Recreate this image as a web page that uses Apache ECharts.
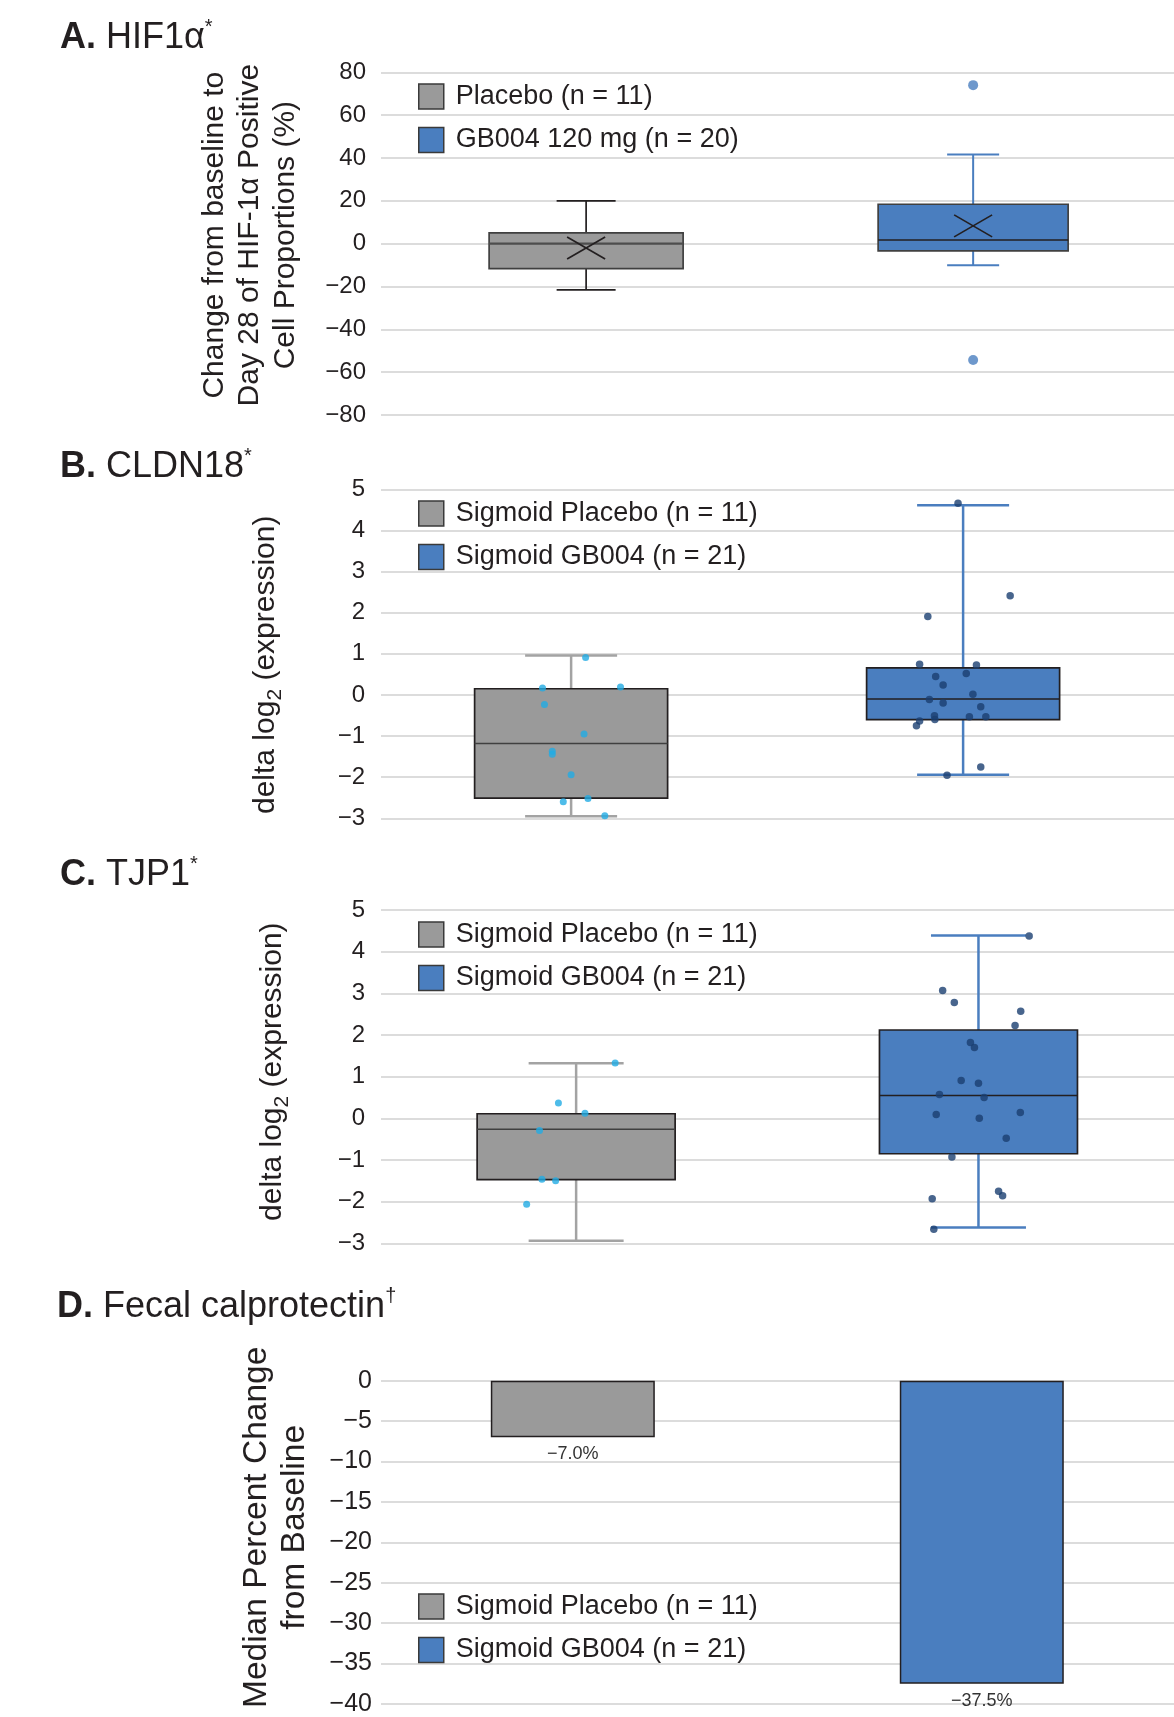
<!DOCTYPE html>
<html>
<head>
<meta charset="utf-8">
<title>GB004 biomarker panels</title>
<script src="https://cdn.jsdelivr.net/npm/echarts@6/dist/echarts.min.js"></script>
<style>
  html, body { margin: 0; padding: 0; background: #fff; }
  #chart { width: 1174px; height: 1717px; }
</style>
</head>
<body>
<div id="chart"></div>
<script>
  // ---- data ----
  // box rows: [group, low whisker, Q1, median, Q3, high whisker, mean]
  const hifNames = ['Placebo (n = 11)', 'GB004 120 mg (n = 20)']
  const hifPlaceboBox = [0, -21.6, -11.7, 0, 5.0, 20, -2.0]
  const hifGb004Box = [1, -10.1, -3.4, 1.7, 18.4, 41.6, 8.3]
  const hifOutliers = [74, -54.3]
  const hifRange = [-80, 80, 20]

  const sigmoidNames = ['Sigmoid Placebo (n = 11)', 'Sigmoid GB004 (n = 21)']

  const cldnPlaceboBox = [0, -2.95, -2.51, -1.18, 0.15, 0.96]
  const cldnGb004Box = [1, -1.94, -0.60, -0.10, 0.66, 4.61]
  const cldnPlaceboPts = [0.91, 0.17, 0.195, -0.23, -0.95, -1.37, -1.44, -1.94, -2.60, -2.52, -2.94]
  const cldnPlaceboJitter = [0.037, -0.073, 0.126, -0.068, 0.033, -0.048, -0.048, 0, -0.020, 0.043, 0.086]
  const cldnGb004Pts = [4.66, 2.41, 1.905, 0.745, 0.73, 0.52, 0.445, 0.243, 0.015, -0.114, -0.195, -0.285,
    -0.504, -0.60, -0.633, -0.747, -0.528, -0.528, -1.75, -1.956]
  const cldnGb004Jitter = [-0.013, 0.120, -0.090, -0.111, 0.034, 0.008, -0.070, -0.051, 0.025, -0.086, -0.051, 0.045,
    -0.073, -0.072, -0.111, -0.119, 0.016, 0.058, 0.045, -0.041]

  const tjpPlaceboBox = [0, -2.94, -1.47, -0.26, 0.11, 1.32]
  const tjpGb004Box = [1, -2.62, -0.85, 0.55, 2.12, 4.385]
  const tjpPlaceboPts = [1.33, 0.37, 0.12, -0.295, -1.46, -1.50, -2.06, -3.05]
  const tjpPlaceboJitter = [0.097, -0.044, 0.022, -0.091, -0.085, -0.051, -0.123, 0.013]
  const tjpGb004Pts = [4.375, 3.07, 2.78, 2.57, 2.23, 1.82, 1.70, 0.91, 0.84, 0.57, 0.50, 0.09, 0.0, 0.14,
    -0.48, -0.93, -1.93, -1.75, -1.86, -2.66]
  const tjpGb004Jitter = [0.126, -0.089, -0.060, 0.105, 0.091, -0.020, -0.010, -0.043, 0.0, -0.097, 0.014, -0.105,
    0.002, 0.104, 0.069, -0.066, -0.115, 0.050, 0.060, -0.111]
  const log2Range = [-3, 5, 1]

  const calproGroups = [0, 1]
  const calproMedians = [-7.0, -37.5]
  const calproRange = [-40, 0, 5]

  // ---- styling ----
  const font = '"Liberation Sans", Arial, Helvetica, sans-serif'
  const ink = '#231f20'
  const gray = '#9a9a9a'
  const blue = '#4a7ebf'
  const lightDot = '#22abe3'
  const darkDot = '#1a3e70'

  const minus = v => String(v).replace('-', '\u2212')

  // 箱线图：须线、端帽、箱体、中位线，可选均值叉
  function boxRenderer(cfg) {
    return function (params, api) {
      const x = api.value(0)
      const pt = v => api.coord([x, v])
      const low = pt(api.value(1)), q1 = pt(api.value(2)), med = pt(api.value(3))
      const q3 = pt(api.value(4)), high = pt(api.value(5))
      const cx = low[0]
      const whisk = {stroke: cfg.whisker, lineWidth: cfg.whiskerWidth}
      const kids = [
        {type: 'line', shape: {x1: cx, y1: high[1], x2: cx, y2: q3[1]}, style: whisk},
        {type: 'line', shape: {x1: cx, y1: q1[1], x2: cx, y2: low[1]}, style: whisk},
        {type: 'line', shape: {x1: cx - cfg.cap, y1: high[1], x2: cx + cfg.cap, y2: high[1]}, style: whisk},
        {type: 'line', shape: {x1: cx - cfg.cap, y1: low[1], x2: cx + cfg.cap, y2: low[1]}, style: whisk},
        {type: 'rect', shape: {x: cx - cfg.half, y: q3[1], width: cfg.half * 2, height: q1[1] - q3[1]},
          style: {fill: api.visual('color'), stroke: cfg.border, lineWidth: 1.7}},
        {type: 'line', shape: {x1: cx - cfg.half, y1: med[1], x2: cx + cfg.half, y2: med[1]},
          style: {stroke: cfg.median, lineWidth: cfg.medianWidth || 1.5}}
      ]
      if (cfg.mean) {
        const m = pt(api.value(6))
        const s = {stroke: ink, lineWidth: 1.7}
        kids.push({type: 'line', shape: {x1: m[0] - 19, y1: m[1] - 11, x2: m[0] + 19, y2: m[1] + 11}, style: s})
        kids.push({type: 'line', shape: {x1: m[0] - 19, y1: m[1] + 11, x2: m[0] + 19, y2: m[1] - 11}, style: s})
      }
      return {type: 'group', children: kids}
    }
  }

  function boxSeries(name, idx, row, color, cfg) {
    const dims = cfg.mean ? [1, 2, 3, 4, 5, 6] : [1, 2, 3, 4, 5]
    return {
      name: name, type: 'custom', xAxisIndex: idx, yAxisIndex: idx,
      itemStyle: {color: color},
      renderItem: boxRenderer(cfg),
      encode: {x: 0, y: dims},
      data: [row], z: 2
    }
  }

  function dotSeries(idx, group, values, jitter, color, size) {
    return {
      type: 'scatter', xAxisIndex: idx, yAxisIndex: idx, z: 4,
      symbolSize: size, itemStyle: {color: color},
      data: values.map((v, i) => [group + jitter[i], v])
    }
  }

  function calproBar(i, color) {
    return {
      name: sigmoidNames[i], type: 'bar', xAxisIndex: 3, yAxisIndex: 3,
      barWidth: 164, barGap: '-100%',
      itemStyle: {color: color, borderColor: ink, borderWidth: 1.5},
      label: {show: true, position: 'bottom', distance: 8, fontSize: 18, color: '#333', fontFamily: font,
        formatter: p => minus(p.value[1].toFixed(1)) + '%'},
      data: [[calproGroups[i], calproMedians[i]]]
    }
  }

  function makeX(idx, min, max) {
    return {gridIndex: idx, type: 'value', min: min, max: max, show: false}
  }

  function makeY(idx, range, name, nameStyle, gap, labelStyle) {
    return {
      gridIndex: idx, type: 'value', min: range[0], max: range[1], interval: range[2],
      axisLine: {show: false}, axisTick: {show: false},
      axisLabel: Object.assign({color: ink, fontFamily: font, formatter: minus}, labelStyle),
      splitLine: {lineStyle: {color: '#dcdcdc', width: 2}},
      name: name, nameLocation: 'middle', nameRotate: 90, nameGap: gap,
      nameTextStyle: Object.assign({color: ink, fontFamily: font, align: 'center'}, nameStyle)
    }
  }

  function makeLegend(names, top) {
    return {
      data: names, orient: 'vertical', left: 418, top: top, padding: 0,
      itemWidth: 25, itemHeight: 25, itemGap: 16.5, icon: 'rect', selectedMode: false,
      itemStyle: {borderColor: '#3a3a3a', borderWidth: 1.5},
      textStyle: {fontSize: 27, color: ink, fontFamily: font, padding: [4, 0, 0, 7]}
    }
  }

  function makeTitle(letter, label, mark, left, top) {
    return {
      left: left, top: top, padding: 0,
      text: '{b|' + letter + '}{n| ' + label + '}{s|' + mark + '}',
      textStyle: {
        fontWeight: 'normal',
        rich: {
          b: {fontSize: 36, fontWeight: 'bold', color: ink, fontFamily: font, lineHeight: 42},
          n: {fontSize: 36, fontWeight: 'normal', color: ink, fontFamily: font, lineHeight: 42},
          s: {fontSize: 20, fontWeight: 'normal', color: ink, fontFamily: font, lineHeight: 26, verticalAlign: 'top'}
        }
      }
    }
  }

  const log2Name = '{m|delta log}{sub|2}{m| (expression)}'
  const log2Rich = {
    rich: {
      m: {fontSize: 30, color: ink, fontFamily: font, lineHeight: 40},
      sub: {fontSize: 21, color: ink, fontFamily: font, lineHeight: 8, verticalAlign: 'bottom'}
    }
  }

  const chart = echarts.init(document.getElementById('chart'), null, {renderer: 'canvas'})

  const gridBase = {left: 381, right: 0, outerBoundsMode: 'none', containLabel: false}

  const option = {
    backgroundColor: '#ffffff',
    animation: false,
    title: [
      makeTitle('A.', 'HIF1\u03b1', '*', 60, 17),
      makeTitle('B.', 'CLDN18', '*', 60, 446),
      makeTitle('C.', 'TJP1', '*', 60, 854),
      makeTitle('D.', 'Fecal calprotectin', '\u2020', 57, 1286)
    ],
    legend: [
      makeLegend(hifNames, 83),
      makeLegend(sigmoidNames, 500),
      makeLegend(sigmoidNames, 921),
      makeLegend(sigmoidNames, 1593)
    ],
    grid: [
      Object.assign({top: 72.3, height: 342.7}, gridBase),
      Object.assign({top: 489.3, height: 329}, gridBase),
      Object.assign({top: 910, height: 333.3}, gridBase),
      Object.assign({top: 1380.7, height: 323.3}, gridBase)
    ],
    xAxis: [
      makeX(0, -0.530, 1.519),
      makeX(1, -0.485, 1.538),
      makeX(2, -0.485, 1.486),
      makeX(3, -0.469, 1.470)
    ],
    yAxis: [
      makeY(0, hifRange, 'Change from baseline to\nDay 28 of HIF-1\u03b1 Positive\nCell Proportions (%)',
        {fontSize: 30, lineHeight: 35.5, padding: [0, 0, 0, 17]}, 78, {fontSize: 24, margin: 15}),
      makeY(1, log2Range, log2Name, Object.assign({padding: [0, 22, 0, 0]}, log2Rich), 95, {fontSize: 24, margin: 16}),
      makeY(2, log2Range, log2Name, Object.assign({padding: [0, 0, 0, 10]}, log2Rich), 88, {fontSize: 24, margin: 16}),
      makeY(3, calproRange, 'Median Percent Change\nfrom Baseline',
        {fontSize: 33.5, lineHeight: 38, padding: [0, 0, 0, 30]}, 67, {fontSize: 25, margin: 9})
    ],
    series: [
      boxSeries(hifNames[0], 0, hifPlaceboBox, gray,
        {half: 97, cap: 29.5, whisker: ink, whiskerWidth: 1.7, border: '#404040', median: '#4d4d4d', medianWidth: 2.2, mean: true}),
      boxSeries(hifNames[1], 0, hifGb004Box, blue,
        {half: 95, cap: 26, whisker: blue, whiskerWidth: 2, border: '#404040', median: ink, mean: true}),
      {
        type: 'scatter', xAxisIndex: 0, yAxisIndex: 0, z: 4, symbolSize: 10,
        itemStyle: {color: blue},
        data: hifOutliers.map(v => [1, v])
      },

      boxSeries(sigmoidNames[0], 1, cldnPlaceboBox, gray,
        {half: 96.5, cap: 46, whisker: '#a3a3a3', whiskerWidth: 2.5, border: ink, median: '#404040'}),
      boxSeries(sigmoidNames[1], 1, cldnGb004Box, blue,
        {half: 96.5, cap: 46, whisker: blue, whiskerWidth: 2.5, border: ink, median: ink}),
      dotSeries(1, 0, cldnPlaceboPts, cldnPlaceboJitter, lightDot, 7),
      dotSeries(1, 1, cldnGb004Pts, cldnGb004Jitter, darkDot, 7.5),

      boxSeries(sigmoidNames[0], 2, tjpPlaceboBox, gray,
        {half: 99, cap: 47.5, whisker: '#a3a3a3', whiskerWidth: 2.5, border: ink, median: '#404040'}),
      boxSeries(sigmoidNames[1], 2, tjpGb004Box, blue,
        {half: 99, cap: 47.5, whisker: blue, whiskerWidth: 2.5, border: ink, median: ink}),
      dotSeries(2, 0, tjpPlaceboPts, tjpPlaceboJitter, lightDot, 7),
      dotSeries(2, 1, tjpGb004Pts, tjpGb004Jitter, darkDot, 7.5),

      calproBar(0, gray),
      calproBar(1, blue)
    ]
  }

  chart.setOption(option)
</script>
</body>
</html>
